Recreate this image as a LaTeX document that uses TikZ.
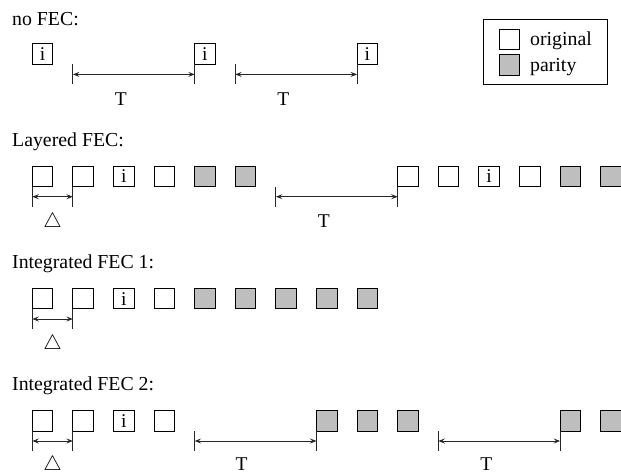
\documentclass[tikz,border=0pt]{standalone}
\usepackage{fontspec}
\setmainfont{Liberation Serif}
\usetikzlibrary{arrows.meta}
\definecolor{paritygray}{RGB}{190,190,190}
\tikzset{
  pkt/.style={draw=black, line width=0.9pt, minimum width=20.5pt, minimum height=20.5pt,
    inner sep=0pt, outer sep=0pt, anchor=north west, font=\fontsize{19.5}{23}\selectfont},
  orig/.style={pkt, fill=white},
  par/.style={pkt, fill=paritygray},
  tickline/.style={line width=0.9pt, draw=black!85},
  dimarrow/.style={line width=0.9pt, draw=black!85,
    {Stealth[length=6.5pt,width=5pt,inset=2.5pt]}-{Stealth[length=6.5pt,width=5pt,inset=2.5pt]}},
  lbl/.style={inner sep=0pt, anchor=base west, font=\fontsize{19.8}{23}\selectfont},
  txt/.style={inner sep=0pt, anchor=base, font=\fontsize{19.5}{23}\selectfont},
  tri/.style={inner sep=0pt, anchor=base, font=\fontsize{22}{26}\selectfont},
}
\begin{document}
\begin{tikzpicture}[x=1pt,y=-1pt]
\useasboundingbox (0,0) rectangle (621,472);

% ---------- legend ----------
\node[draw=black, line width=0.9pt, minimum width=124pt, minimum height=64.5pt,
      inner sep=0pt, outer sep=0pt, anchor=north west] (legend) at (483,19.5) {};
\node[orig] (legorig) at (499,29.3) {};
\node[par] (legpar) at (499,54.5) {};
\node[lbl] (legorigt) at (530,45.7) {original};
\node[lbl] (legpart) at (530,71) {parity};

% ---------- no FEC ----------
\node[lbl] (lab0) at (12,25) {no FEC:};
\foreach \k in {0,4,8} \node[orig] (r0b\k) at ({32.3+40.6*\k},43.7) {i};
\foreach \k in {1,4,5,8} {
  \coordinate (r0t\k) at ({32.3+40.6*\k},64.2);
  \coordinate (r0e\k) at ({32.3+40.6*\k},84.4);
  \coordinate (r0a\k) at ({32.3+40.6*\k},74.4);
  \draw[tickline] (r0t\k) -- (r0e\k);
}
\draw[dimarrow] (r0a1) -- (r0a4);
\draw[dimarrow] (r0a5) -- (r0a8);
\node[txt] (r0T1) at ({32.3+40.6*1+48},105) {T};
\node[txt] (r0T2) at ({32.3+40.6*5+48},105) {T};

% ---------- Layered FEC ----------
\node[lbl] (lab1) at (12,146.5) {Layered FEC:};
\foreach \k in {0,1,3,9,10,12} \node[orig] (r1b\k) at ({32.3+40.6*\k},166) {};
\foreach \k in {2,11} \node[orig] (r1b\k) at ({32.3+40.6*\k},166) {i};
\foreach \k in {4,5,13,14} \node[par] (r1b\k) at ({32.3+40.6*\k},166) {};
\foreach \k in {0,1,6,9} {
  \coordinate (r1t\k) at ({32.3+40.6*\k},186.5);
  \coordinate (r1e\k) at ({32.3+40.6*\k},206.7);
  \coordinate (r1a\k) at ({32.3+40.6*\k},196.7);
  \draw[tickline] (r1t\k) -- (r1e\k);
}
\draw[dimarrow] (r1a0) -- (r1a1);
\draw[dimarrow] (r1a6) -- (r1a9);
\node[tri] (r1D) at (52.5,227) {$\triangle$};
\node[txt] (r1T) at ({32.3+40.6*6+48},227.3) {T};

% ---------- Integrated FEC 1 ----------
\node[lbl] (lab2) at (12,268.5) {Integrated FEC 1:};
\foreach \k in {0,1,3} \node[orig] (r2b\k) at ({32.3+40.6*\k},288.3) {};
\node[orig] (r2b2) at ({32.3+40.6*2},288.3) {i};
\foreach \k in {4,...,8} \node[par] (r2b\k) at ({32.3+40.6*\k},288.3) {};
\foreach \k in {0,1} {
  \coordinate (r2t\k) at ({32.3+40.6*\k},308.8);
  \coordinate (r2e\k) at ({32.3+40.6*\k},329);
  \coordinate (r2a\k) at ({32.3+40.6*\k},319);
  \draw[tickline] (r2t\k) -- (r2e\k);
}
\draw[dimarrow] (r2a0) -- (r2a1);
\node[tri] (r2D) at (52.5,349.5) {$\triangle$};

% ---------- Integrated FEC 2 ----------
\node[lbl] (lab3) at (12,390.7) {Integrated FEC 2:};
\foreach \k in {0,1,3} \node[orig] (r3b\k) at ({32.3+40.6*\k},410.7) {};
\node[orig] (r3b2) at ({32.3+40.6*2},410.7) {i};
\foreach \k in {7,8,9,13,14} \node[par] (r3b\k) at ({32.3+40.6*\k},410.7) {};
\foreach \k in {0,1,4,7,10,13} {
  \coordinate (r3t\k) at ({32.3+40.6*\k},431.2);
  \coordinate (r3e\k) at ({32.3+40.6*\k},451.2);
  \coordinate (r3a\k) at ({32.3+40.6*\k},441);
  \draw[tickline] (r3t\k) -- (r3e\k);
}
\draw[dimarrow] (r3a0) -- (r3a1);
\draw[dimarrow] (r3a4) -- (r3a7);
\draw[dimarrow] (r3a10) -- (r3a13);
\node[tri] (r3D) at (52.5,470.5) {$\triangle$};
\node[txt] (r3T1) at ({32.3+40.6*4+47},470) {T};
\node[txt] (r3T2) at ({32.3+40.6*10+48},470) {T};
\end{tikzpicture}
\end{document}
